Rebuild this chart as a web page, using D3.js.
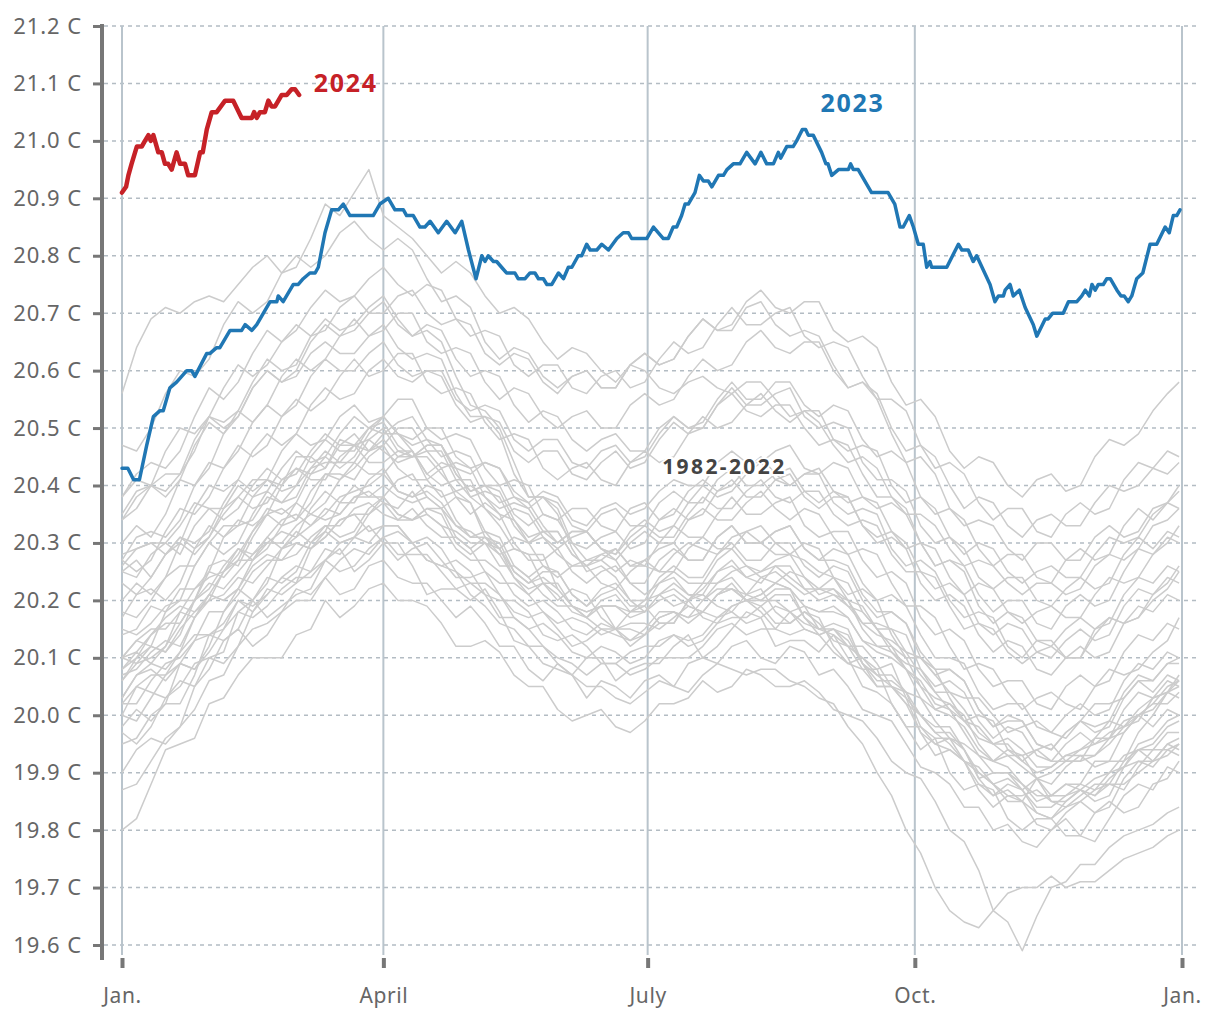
<!DOCTYPE html>
<html><head><meta charset="utf-8">
<script src="https://cdn.jsdelivr.net/npm/d3@7"></script>
<style>
html,body{margin:0;padding:0;background:#fff;}
text{font-family:"Noto Sans","Open Sans",sans-serif;}
</style></head>
<body><svg id="chart" width="1220" height="1020"></svg>
<script>
// ---------- DATA ----------
const yTicks = [19.6,19.7,19.8,19.9,20.0,20.1,20.2,20.3,20.4,20.5,20.6,20.7,20.8,20.9,21.0,21.1,21.2];
const monthDays = [0,90,181,273,365];
const monthLabels = ["Jan.","April","July","Oct.","Jan."];
const GREY_DAYS = [0,5,10,15,20,25,30,35,40,45,50,55,60,65,70,75,80,85,90,95,100,105,110,115,120,125,130,135,140,145,150,155,160,165,170,175,180,185,190,195,200,205,210,215,220,225,230,235,240,245,250,255,260,265,270,275,280,285,290,295,300,305,310,315,320,325,330,335,340,345,350,355,360,364];

const y1982=[20.00,20.05,20.04,20.03,20.05,20.09,20.10,20.11,20.18,20.20,20.17,20.19,20.21,20.22,20.27,20.29,20.25,20.27,20.30,20.30,20.26,20.21,20.22,20.22,20.20,20.22,20.18,20.13,20.12,20.12,20.09,20.07,20.10,20.10,20.06,20.08,20.09,20.09,20.12,20.14,20.10,20.12,20.15,20.18,20.17,20.12,20.13,20.13,20.11,20.14,20.10,20.05,20.04,20.02,19.98,19.94,19.96,19.96,19.92,19.90,19.88,19.85,19.85,19.89,19.86,19.86,19.88,19.92,19.92,19.92,19.97,20.00,20.04,20.03];
const y1983=[20.28,20.29,20.30,20.30,20.33,20.37,20.36,20.36,20.38,20.41,20.41,20.40,20.45,20.45,20.43,20.48,20.47,20.46,20.49,20.49,20.46,20.42,20.44,20.43,20.38,20.36,20.33,20.29,20.28,20.28,20.22,20.19,20.18,20.19,20.15,20.12,20.14,20.16,20.16,20.20,20.17,20.16,20.19,20.20,20.18,20.15,20.18,20.19,20.15,20.14,20.12,20.08,20.08,20.09,20.03,20.00,19.98,19.98,19.94,19.89,19.90,19.90,19.87,19.89,19.85,19.84,19.86,19.88,19.88,19.87,19.91,19.94,19.94,19.95];
const y1984=[19.97,19.95,19.98,20.03,20.06,20.05,20.08,20.13,20.15,20.12,20.14,20.18,20.20,20.20,20.24,20.21,20.22,20.26,20.27,20.24,20.23,20.23,20.20,20.17,20.19,20.16,20.12,20.12,20.08,20.06,20.09,20.07,20.03,20.06,20.05,20.03,20.06,20.07,20.05,20.09,20.10,20.09,20.12,20.13,20.10,20.09,20.12,20.11,20.07,20.08,20.05,20.01,20.00,19.99,19.95,19.91,19.90,19.88,19.84,19.84,19.80,19.81,19.78,19.77,19.80,19.82,19.79,19.78,19.82,19.86,19.88,19.87,19.91,19.90];
const y1985=[19.80,19.82,19.88,19.94,19.95,19.96,20.02,20.03,20.07,20.10,20.10,20.10,20.14,20.15,20.20,20.17,20.19,20.22,20.23,20.20,20.20,20.19,20.16,20.12,20.12,20.13,20.11,20.07,20.05,20.05,20.01,19.99,20.00,20.01,19.98,19.97,19.99,20.02,20.02,20.03,20.06,20.04,20.05,20.08,20.07,20.05,20.05,20.06,20.04,20.01,20.00,19.99,19.96,19.92,19.90,19.89,19.85,19.80,19.78,19.73,19.66,19.64,19.59,19.65,19.70,19.71,19.74,19.74,19.77,19.79,19.80,19.81,19.83,19.84];
const y1986=[20.03,20.07,20.08,20.06,20.09,20.13,20.14,20.15,20.20,20.18,20.21,20.24,20.23,20.25,20.29,20.28,20.31,20.33,20.30,20.27,20.29,20.30,20.27,20.24,20.24,20.25,20.21,20.18,20.17,20.18,20.15,20.12,20.13,20.15,20.14,20.13,20.15,20.18,20.18,20.17,20.20,20.22,20.22,20.21,20.24,20.25,20.23,20.21,20.22,20.22,20.19,20.16,20.16,20.15,20.11,20.10,20.07,20.04,20.03,20.03,20.00,19.97,19.98,19.99,19.97,19.96,19.99,20.02,20.02,20.03,20.06,20.06,20.09,20.10];
const y1987=[20.18,20.17,20.20,20.24,20.26,20.26,20.30,20.33,20.33,20.34,20.38,20.37,20.40,20.43,20.44,20.44,20.47,20.48,20.46,20.44,20.45,20.45,20.42,20.39,20.40,20.38,20.35,20.34,20.30,20.31,20.28,20.26,20.27,20.27,20.25,20.27,20.26,20.25,20.28,20.30,20.29,20.28,20.31,20.32,20.30,20.28,20.28,20.27,20.25,20.24,20.20,20.19,20.15,20.12,20.08,20.06,20.02,20.01,19.97,19.93,19.92,19.91,19.88,19.86,19.86,19.88,19.87,19.86,19.89,19.91,19.92,19.92,19.95,19.96];
const y1988=[20.10,20.13,20.12,20.11,20.15,20.18,20.20,20.21,20.24,20.23,20.26,20.29,20.30,20.29,20.31,20.34,20.35,20.32,20.33,20.33,20.30,20.27,20.26,20.25,20.21,20.19,20.16,20.15,20.12,20.09,20.08,20.07,20.05,20.05,20.03,20.02,20.04,20.06,20.05,20.04,20.07,20.09,20.08,20.07,20.08,20.08,20.06,20.05,20.03,20.02,19.98,19.95,19.90,19.86,19.80,19.76,19.70,19.66,19.64,19.63,19.66,19.69,19.70,19.70,19.72,19.70,19.71,19.71,19.73,19.75,19.76,19.77,19.79,19.80];
const y1989=[19.87,19.88,19.92,19.96,19.98,20.01,20.06,20.07,20.12,20.15,20.16,20.18,20.22,20.21,20.24,20.27,20.29,20.28,20.31,20.32,20.30,20.27,20.26,20.27,20.25,20.21,20.20,20.20,20.18,20.14,20.13,20.14,20.12,20.09,20.09,20.11,20.12,20.12,20.14,20.12,20.13,20.16,20.17,20.17,20.19,20.16,20.16,20.18,20.16,20.13,20.12,20.12,20.09,20.05,20.04,20.03,19.99,19.96,19.95,19.93,19.90,19.90,19.88,19.85,19.86,19.88,19.88,19.87,19.90,19.93,19.94,19.95,19.98,19.99];
const y1990=[20.10,20.11,20.14,20.17,20.19,20.18,20.21,20.25,20.27,20.27,20.30,20.32,20.31,20.33,20.36,20.35,20.38,20.39,20.37,20.36,20.39,20.35,20.33,20.32,20.30,20.30,20.28,20.24,20.22,20.23,20.21,20.18,20.17,20.19,20.19,20.18,20.20,20.21,20.19,20.20,20.23,20.23,20.25,20.26,20.24,20.23,20.25,20.24,20.21,20.22,20.20,20.16,20.14,20.13,20.11,20.07,20.04,20.04,20.01,19.97,19.95,19.96,19.94,19.91,19.91,19.93,19.94,19.95,19.97,19.98,20.01,20.03,20.04,20.06];
const y1991=[20.06,20.09,20.10,20.12,20.16,20.20,20.23,20.22,20.25,20.28,20.30,20.30,20.33,20.35,20.34,20.35,20.38,20.38,20.40,20.38,20.37,20.38,20.36,20.33,20.32,20.30,20.26,20.26,20.24,20.21,20.19,20.19,20.17,20.15,20.15,20.16,20.16,20.15,20.17,20.19,20.18,20.17,20.19,20.20,20.20,20.20,20.18,20.16,20.15,20.15,20.12,20.10,20.07,20.05,20.02,20.00,19.97,19.95,19.92,19.91,19.88,19.86,19.86,19.87,19.85,19.85,19.87,19.89,19.90,19.91,19.95,19.96,19.99,20.00];
const y1992=[20.00,19.99,20.03,20.07,20.09,20.08,20.11,20.15,20.18,20.17,20.19,20.22,20.24,20.24,20.27,20.25,20.26,20.29,20.31,20.28,20.28,20.28,20.25,20.22,20.23,20.21,20.17,20.17,20.15,20.12,20.10,20.09,20.07,20.09,20.09,20.07,20.08,20.10,20.10,20.10,20.12,20.15,20.16,20.14,20.15,20.15,20.14,20.15,20.14,20.11,20.09,20.08,20.05,20.05,20.02,19.97,19.95,19.94,19.92,19.88,19.86,19.87,19.85,19.83,19.82,19.84,19.85,19.87,19.88,19.88,19.90,19.92,19.93,19.95];
const y1993=[20.02,20.05,20.07,20.07,20.11,20.14,20.14,20.16,20.20,20.19,20.21,20.24,20.26,20.25,20.27,20.30,20.31,20.30,20.33,20.33,20.30,20.31,20.29,20.25,20.23,20.23,20.21,20.17,20.15,20.16,20.14,20.11,20.10,20.12,20.11,20.09,20.10,20.13,20.14,20.13,20.14,20.17,20.18,20.16,20.17,20.19,20.18,20.15,20.14,20.15,20.13,20.09,20.07,20.07,20.04,20.00,19.97,19.97,19.94,19.90,19.88,19.89,19.87,19.84,19.84,19.86,19.87,19.86,19.88,19.92,19.94,19.94,19.97,19.97];
const y1994=[20.07,20.08,20.11,20.13,20.12,20.17,20.21,20.20,20.22,20.26,20.28,20.27,20.28,20.31,20.33,20.33,20.36,20.37,20.35,20.34,20.36,20.33,20.31,20.31,20.29,20.25,20.23,20.23,20.21,20.18,20.16,20.17,20.16,20.14,20.15,20.15,20.14,20.17,20.18,20.17,20.18,20.21,20.22,20.20,20.21,20.23,20.22,20.19,20.18,20.18,20.17,20.13,20.11,20.10,20.08,20.03,20.01,20.00,19.98,19.94,19.92,19.93,19.91,19.89,19.90,19.92,19.92,19.93,19.95,19.98,20.00,20.01,20.04,20.05];
const y1995=[20.15,20.14,20.16,20.19,20.20,20.20,20.22,20.26,20.29,20.28,20.31,20.34,20.35,20.33,20.35,20.38,20.39,20.40,20.42,20.39,20.38,20.39,20.37,20.33,20.31,20.31,20.29,20.25,20.23,20.24,20.22,20.19,20.18,20.19,20.19,20.17,20.18,20.21,20.22,20.20,20.22,20.25,20.26,20.24,20.25,20.26,20.24,20.22,20.22,20.21,20.19,20.18,20.15,20.11,20.09,20.08,20.04,20.01,19.99,19.98,19.95,19.93,19.93,19.94,19.92,19.92,19.94,19.96,19.96,19.97,20.00,20.02,20.02,20.04];
const y1996=[20.02,20.02,20.06,20.09,20.10,20.13,20.18,20.18,20.21,20.25,20.27,20.27,20.30,20.29,20.31,20.34,20.35,20.35,20.37,20.34,20.34,20.35,20.33,20.29,20.27,20.27,20.25,20.21,20.19,20.20,20.18,20.15,20.14,20.16,20.15,20.13,20.14,20.17,20.18,20.16,20.18,20.21,20.22,20.20,20.21,20.23,20.22,20.19,20.18,20.19,20.17,20.13,20.12,20.11,20.08,20.05,20.03,20.02,19.99,19.96,19.95,19.95,19.92,19.90,19.91,19.93,19.93,19.93,19.96,19.99,20.00,20.02,20.05,20.06];
const y1997=[20.10,20.13,20.15,20.15,20.18,20.22,20.24,20.25,20.28,20.32,20.35,20.33,20.34,20.39,20.42,20.41,20.43,20.46,20.48,20.45,20.45,20.47,20.47,20.43,20.42,20.44,20.43,20.39,20.37,20.39,20.38,20.34,20.33,20.36,20.37,20.35,20.36,20.39,20.41,20.40,20.40,20.44,20.46,20.44,20.44,20.46,20.47,20.43,20.42,20.44,20.43,20.38,20.36,20.37,20.35,20.30,20.26,20.27,20.26,20.21,20.18,20.20,20.20,20.16,20.15,20.19,20.21,20.19,20.20,20.25,20.29,20.28,20.31,20.30];
const y1998=[20.34,20.38,20.40,20.39,20.42,20.48,20.52,20.51,20.53,20.58,20.62,20.60,20.61,20.66,20.69,20.67,20.68,20.71,20.73,20.69,20.66,20.67,20.65,20.59,20.54,20.53,20.50,20.44,20.38,20.38,20.35,20.29,20.25,20.26,20.24,20.20,20.18,20.20,20.21,20.19,20.18,20.21,20.23,20.20,20.19,20.21,20.21,20.17,20.14,20.15,20.14,20.09,20.05,20.05,20.03,19.97,19.93,19.94,19.92,19.87,19.84,19.86,19.85,19.81,19.80,19.83,19.85,19.83,19.84,19.89,19.92,19.91,19.94,19.93];
const y1999=[19.95,19.96,20.00,20.02,20.02,20.07,20.14,20.13,20.15,20.20,20.24,20.23,20.25,20.30,20.33,20.31,20.32,20.36,20.38,20.35,20.34,20.36,20.35,20.30,20.28,20.30,20.29,20.24,20.21,20.23,20.23,20.19,20.17,20.20,20.21,20.18,20.18,20.21,20.23,20.21,20.21,20.25,20.27,20.24,20.23,20.26,20.26,20.22,20.20,20.21,20.20,20.15,20.12,20.12,20.10,20.05,20.01,20.02,20.00,19.95,19.92,19.94,19.93,19.89,19.88,19.91,19.93,19.91,19.92,19.97,20.00,19.98,20.01,20.00];
const y2000=[20.03,20.07,20.09,20.08,20.11,20.17,20.21,20.20,20.22,20.27,20.31,20.29,20.31,20.36,20.39,20.37,20.37,20.41,20.43,20.39,20.38,20.40,20.39,20.34,20.31,20.32,20.31,20.26,20.24,20.26,20.25,20.21,20.19,20.21,20.22,20.19,20.19,20.23,20.25,20.23,20.23,20.27,20.29,20.26,20.25,20.27,20.28,20.24,20.22,20.24,20.23,20.18,20.15,20.15,20.14,20.08,20.05,20.06,20.04,19.99,19.96,19.98,19.97,19.93,19.92,19.95,19.97,19.95,19.96,20.01,20.04,20.03,20.06,20.05];
const y2001=[20.08,20.10,20.14,20.16,20.16,20.20,20.26,20.27,20.26,20.31,20.35,20.36,20.34,20.37,20.42,20.42,20.41,20.45,20.47,20.43,20.41,20.41,20.43,20.38,20.35,20.37,20.35,20.30,20.27,20.27,20.29,20.25,20.23,20.25,20.26,20.23,20.23,20.27,20.29,20.27,20.27,20.31,20.33,20.30,20.30,20.32,20.33,20.29,20.27,20.29,20.28,20.23,20.20,20.21,20.19,20.14,20.10,20.10,20.09,20.04,20.01,20.02,20.02,19.98,19.97,20.00,20.02,20.00,20.01,20.06,20.09,20.08,20.11,20.10];
const y2002=[20.14,20.15,20.19,20.18,20.20,20.26,20.30,20.28,20.30,20.35,20.39,20.37,20.38,20.43,20.46,20.44,20.44,20.48,20.50,20.46,20.45,20.47,20.47,20.42,20.39,20.40,20.40,20.35,20.33,20.35,20.34,20.30,20.29,20.31,20.32,20.29,20.30,20.34,20.36,20.34,20.35,20.39,20.41,20.38,20.38,20.41,20.42,20.38,20.36,20.38,20.38,20.33,20.31,20.32,20.30,20.25,20.22,20.23,20.21,20.16,20.14,20.16,20.15,20.11,20.10,20.13,20.15,20.13,20.14,20.19,20.22,20.21,20.24,20.23];
const y2003=[20.25,20.24,20.28,20.30,20.28,20.33,20.36,20.34,20.36,20.40,20.43,20.41,20.42,20.46,20.49,20.47,20.47,20.50,20.52,20.49,20.47,20.48,20.47,20.42,20.39,20.40,20.39,20.34,20.31,20.32,20.32,20.28,20.26,20.28,20.29,20.26,20.26,20.30,20.33,20.31,20.31,20.35,20.38,20.35,20.35,20.37,20.38,20.33,20.31,20.32,20.32,20.27,20.24,20.25,20.23,20.17,20.14,20.15,20.13,20.08,20.05,20.06,20.06,20.02,20.01,20.05,20.07,20.05,20.06,20.11,20.14,20.13,20.16,20.15];
const y2004=[20.17,20.21,20.22,20.20,20.23,20.29,20.33,20.31,20.33,20.38,20.41,20.39,20.40,20.45,20.48,20.46,20.46,20.50,20.51,20.47,20.45,20.46,20.46,20.41,20.38,20.39,20.38,20.33,20.30,20.32,20.32,20.28,20.26,20.27,20.29,20.26,20.27,20.29,20.30,20.27,20.27,20.31,20.33,20.30,20.30,20.32,20.33,20.29,20.27,20.27,20.26,20.21,20.18,20.18,20.16,20.11,20.08,20.08,20.06,20.01,19.98,19.99,19.99,19.95,19.94,19.97,19.99,19.98,19.99,20.04,20.07,20.06,20.09,20.09];
const y2005=[20.20,20.23,20.21,20.24,20.30,20.28,20.31,20.36,20.40,20.38,20.39,20.43,20.46,20.44,20.45,20.49,20.52,20.50,20.49,20.51,20.52,20.48,20.45,20.46,20.45,20.40,20.37,20.38,20.37,20.33,20.30,20.32,20.32,20.29,20.27,20.30,20.32,20.30,20.30,20.34,20.36,20.34,20.34,20.37,20.39,20.36,20.34,20.36,20.35,20.31,20.28,20.29,20.28,20.23,20.19,20.19,20.17,20.12,20.08,20.09,20.08,20.04,20.01,20.03,20.04,20.02,20.01,20.05,20.08,20.07,20.08,20.11,20.13,20.17];
const y2006=[20.10,20.09,20.12,20.18,20.22,20.22,20.25,20.31,20.34,20.33,20.35,20.40,20.43,20.42,20.43,20.47,20.49,20.46,20.47,20.50,20.50,20.46,20.43,20.44,20.43,20.38,20.36,20.37,20.36,20.32,20.30,20.32,20.32,20.29,20.28,20.31,20.33,20.31,20.31,20.35,20.38,20.36,20.36,20.39,20.41,20.38,20.37,20.39,20.39,20.35,20.33,20.34,20.33,20.28,20.25,20.25,20.24,20.19,20.15,20.16,20.15,20.11,20.09,20.11,20.12,20.10,20.10,20.14,20.17,20.16,20.17,20.20,20.22,20.25];
const y2007=[20.25,20.27,20.24,20.28,20.31,20.29,20.31,20.35,20.38,20.36,20.37,20.41,20.43,20.41,20.41,20.45,20.47,20.44,20.44,20.46,20.46,20.41,20.38,20.39,20.37,20.31,20.28,20.29,20.28,20.23,20.20,20.22,20.21,20.17,20.15,20.18,20.19,20.16,20.16,20.20,20.21,20.19,20.18,20.21,20.22,20.18,20.16,20.18,20.17,20.12,20.09,20.10,20.08,20.02,19.98,19.98,19.96,19.90,19.87,19.88,19.87,19.82,19.80,19.82,19.82,19.79,19.79,19.83,19.85,19.83,19.84,19.88,19.89,19.92];
const y2008=[19.90,19.94,19.96,19.95,19.98,20.05,20.10,20.09,20.12,20.18,20.22,20.21,20.23,20.29,20.32,20.30,20.31,20.35,20.38,20.35,20.34,20.36,20.36,20.31,20.29,20.31,20.30,20.25,20.23,20.25,20.25,20.21,20.19,20.22,20.23,20.20,20.20,20.24,20.26,20.24,20.24,20.28,20.30,20.27,20.27,20.30,20.30,20.26,20.24,20.26,20.25,20.20,20.17,20.18,20.16,20.10,20.07,20.08,20.06,20.01,19.98,20.00,19.99,19.95,19.94,19.97,19.99,19.97,19.98,20.03,20.06,20.04,20.07,20.06];
const y2009=[20.08,20.11,20.09,20.12,20.18,20.17,20.20,20.25,20.29,20.27,20.29,20.33,20.37,20.35,20.37,20.41,20.44,20.42,20.42,20.45,20.46,20.42,20.40,20.41,20.41,20.36,20.34,20.36,20.35,20.31,20.29,20.31,20.32,20.29,20.28,20.32,20.34,20.32,20.33,20.37,20.40,20.38,20.39,20.42,20.44,20.41,20.40,20.42,20.43,20.39,20.37,20.38,20.37,20.32,20.29,20.30,20.29,20.24,20.21,20.23,20.22,20.18,20.16,20.18,20.19,20.17,20.17,20.21,20.24,20.23,20.24,20.28,20.30,20.33];
const y2010=[20.34,20.36,20.40,20.42,20.42,20.46,20.52,20.50,20.52,20.57,20.60,20.58,20.59,20.63,20.65,20.63,20.63,20.66,20.68,20.64,20.62,20.63,20.62,20.56,20.52,20.52,20.49,20.42,20.38,20.38,20.36,20.30,20.27,20.28,20.27,20.23,20.21,20.23,20.24,20.21,20.20,20.23,20.24,20.21,20.20,20.22,20.22,20.17,20.15,20.16,20.15,20.09,20.06,20.06,20.04,19.98,19.95,19.96,19.94,19.89,19.86,19.88,19.87,19.83,19.82,19.85,19.87,19.85,19.86,19.91,19.94,19.92,19.95,19.94];
const y2011=[19.98,20.01,19.99,20.02,20.09,20.08,20.12,20.18,20.22,20.20,20.23,20.29,20.32,20.30,20.32,20.37,20.40,20.38,20.38,20.41,20.42,20.38,20.36,20.38,20.37,20.32,20.29,20.31,20.30,20.26,20.24,20.26,20.26,20.23,20.22,20.25,20.27,20.25,20.25,20.29,20.31,20.29,20.29,20.32,20.33,20.30,20.28,20.30,20.29,20.24,20.21,20.22,20.20,20.14,20.10,20.10,20.08,20.03,19.99,20.00,19.99,19.94,19.92,19.94,19.95,19.92,19.92,19.96,19.99,19.98,19.99,20.03,20.04,20.07];
const y2012=[20.06,20.10,20.12,20.11,20.14,20.20,20.25,20.24,20.27,20.32,20.36,20.35,20.37,20.42,20.45,20.43,20.45,20.49,20.52,20.49,20.48,20.50,20.50,20.45,20.43,20.44,20.43,20.38,20.36,20.38,20.37,20.33,20.32,20.35,20.36,20.33,20.33,20.37,20.39,20.37,20.37,20.41,20.43,20.40,20.40,20.42,20.43,20.39,20.37,20.39,20.38,20.33,20.30,20.31,20.29,20.23,20.20,20.21,20.19,20.14,20.11,20.13,20.12,20.08,20.07,20.10,20.12,20.10,20.11,20.16,20.19,20.18,20.21,20.20];
const y2013=[20.23,20.21,20.24,20.28,20.31,20.30,20.32,20.37,20.41,20.39,20.41,20.46,20.49,20.47,20.48,20.52,20.54,20.51,20.52,20.55,20.55,20.50,20.48,20.49,20.48,20.43,20.40,20.41,20.40,20.35,20.34,20.36,20.36,20.33,20.32,20.36,20.37,20.34,20.35,20.39,20.41,20.39,20.40,20.43,20.45,20.42,20.40,20.42,20.42,20.37,20.35,20.36,20.35,20.29,20.26,20.27,20.25,20.20,20.17,20.18,20.17,20.12,20.10,20.13,20.13,20.10,20.10,20.15,20.17,20.16,20.17,20.21,20.23,20.26];
const y2014=[20.26,20.29,20.30,20.28,20.30,20.36,20.40,20.39,20.41,20.46,20.49,20.47,20.49,20.54,20.57,20.55,20.56,20.60,20.62,20.59,20.58,20.60,20.60,20.55,20.53,20.54,20.53,20.48,20.46,20.48,20.48,20.44,20.43,20.46,20.47,20.44,20.45,20.49,20.52,20.50,20.51,20.55,20.58,20.55,20.55,20.58,20.58,20.54,20.52,20.54,20.53,20.48,20.45,20.46,20.44,20.38,20.35,20.36,20.34,20.29,20.26,20.28,20.28,20.24,20.23,20.27,20.29,20.27,20.28,20.33,20.36,20.34,20.37,20.36];
const y2015=[20.38,20.41,20.40,20.46,20.50,20.49,20.52,20.57,20.61,20.59,20.61,20.65,20.68,20.66,20.67,20.71,20.73,20.70,20.70,20.73,20.74,20.70,20.68,20.69,20.68,20.63,20.61,20.63,20.62,20.58,20.56,20.59,20.60,20.57,20.57,20.61,20.63,20.61,20.62,20.66,20.69,20.67,20.68,20.72,20.74,20.71,20.70,20.72,20.72,20.67,20.65,20.66,20.64,20.58,20.54,20.55,20.52,20.46,20.43,20.45,20.44,20.40,20.38,20.41,20.42,20.39,20.40,20.45,20.48,20.47,20.49,20.53,20.56,20.58];
const y2016=[20.56,20.64,20.69,20.71,20.70,20.72,20.73,20.72,20.75,20.78,20.80,20.77,20.78,20.83,20.89,20.87,20.91,20.95,20.87,20.85,20.83,20.80,20.77,20.79,20.77,20.73,20.70,20.71,20.69,20.65,20.62,20.64,20.63,20.60,20.58,20.61,20.60,20.57,20.56,20.58,20.59,20.57,20.56,20.58,20.58,20.55,20.52,20.53,20.51,20.47,20.44,20.45,20.43,20.38,20.35,20.35,20.33,20.29,20.26,20.27,20.26,20.23,20.21,20.23,20.23,20.21,20.22,20.26,20.28,20.27,20.29,20.33,20.34,20.36];
const y2017=[20.35,20.39,20.40,20.38,20.41,20.47,20.51,20.49,20.52,20.57,20.60,20.58,20.60,20.65,20.68,20.66,20.67,20.70,20.72,20.68,20.66,20.68,20.67,20.62,20.59,20.60,20.59,20.54,20.51,20.53,20.52,20.48,20.46,20.48,20.49,20.46,20.46,20.50,20.52,20.50,20.50,20.54,20.56,20.53,20.52,20.54,20.54,20.50,20.47,20.48,20.47,20.42,20.38,20.38,20.36,20.30,20.26,20.27,20.25,20.19,20.16,20.18,20.17,20.13,20.12,20.15,20.17,20.15,20.16,20.21,20.24,20.23,20.26,20.25];
const y2018=[20.27,20.25,20.27,20.32,20.36,20.35,20.38,20.43,20.47,20.45,20.47,20.52,20.55,20.53,20.55,20.59,20.62,20.59,20.60,20.63,20.63,20.58,20.56,20.57,20.56,20.51,20.48,20.49,20.48,20.43,20.41,20.43,20.44,20.41,20.40,20.44,20.46,20.44,20.45,20.49,20.52,20.50,20.51,20.54,20.56,20.53,20.51,20.53,20.53,20.48,20.46,20.47,20.46,20.40,20.37,20.38,20.36,20.31,20.28,20.30,20.29,20.25,20.23,20.25,20.26,20.24,20.24,20.28,20.31,20.30,20.31,20.35,20.37,20.40];
const y2019=[20.38,20.42,20.44,20.43,20.46,20.52,20.57,20.55,20.58,20.63,20.67,20.65,20.67,20.71,20.74,20.72,20.73,20.76,20.78,20.75,20.73,20.75,20.74,20.69,20.66,20.67,20.66,20.61,20.59,20.61,20.61,20.57,20.56,20.59,20.60,20.57,20.58,20.62,20.65,20.63,20.64,20.68,20.71,20.68,20.68,20.70,20.71,20.66,20.64,20.65,20.64,20.59,20.55,20.55,20.53,20.47,20.43,20.44,20.42,20.37,20.34,20.36,20.36,20.32,20.31,20.35,20.37,20.35,20.36,20.41,20.44,20.43,20.46,20.45];
const y2020=[20.47,20.46,20.50,20.56,20.60,20.59,20.62,20.68,20.72,20.70,20.72,20.77,20.80,20.78,20.80,20.84,20.86,20.83,20.81,20.83,20.81,20.76,20.72,20.73,20.71,20.65,20.62,20.64,20.63,20.59,20.57,20.59,20.60,20.57,20.57,20.61,20.63,20.61,20.62,20.66,20.69,20.67,20.67,20.71,20.72,20.68,20.66,20.67,20.66,20.61,20.57,20.58,20.55,20.49,20.44,20.45,20.42,20.36,20.33,20.34,20.33,20.29,20.27,20.30,20.30,20.27,20.27,20.31,20.33,20.31,20.32,20.36,20.37,20.39];
const y2021=[20.27,20.31,20.32,20.31,20.34,20.40,20.44,20.43,20.46,20.51,20.54,20.52,20.54,20.59,20.62,20.60,20.60,20.63,20.65,20.61,20.59,20.60,20.59,20.54,20.51,20.52,20.51,20.46,20.44,20.46,20.46,20.42,20.41,20.44,20.46,20.43,20.44,20.48,20.51,20.49,20.50,20.54,20.57,20.54,20.54,20.56,20.57,20.52,20.50,20.51,20.50,20.44,20.41,20.41,20.39,20.33,20.30,20.31,20.29,20.24,20.22,20.24,20.24,20.20,20.19,20.22,20.24,20.22,20.23,20.28,20.31,20.29,20.32,20.31];
const y2022=[20.30,20.33,20.31,20.35,20.41,20.40,20.43,20.49,20.53,20.51,20.54,20.59,20.62,20.60,20.62,20.66,20.69,20.66,20.67,20.70,20.70,20.65,20.63,20.64,20.63,20.58,20.55,20.57,20.56,20.52,20.50,20.52,20.53,20.50,20.50,20.54,20.56,20.54,20.55,20.59,20.62,20.60,20.61,20.65,20.67,20.64,20.63,20.65,20.65,20.60,20.57,20.58,20.56,20.50,20.46,20.47,20.45,20.40,20.36,20.38,20.37,20.33,20.31,20.34,20.35,20.33,20.33,20.37,20.40,20.39,20.40,20.43,20.42,20.44];

const greySeries = [y1982,y1983,y1984,y1985,y1986,y1987,y1988,y1989,y1990,y1991,y1992,y1993,y1994,y1995,y1996,y1997,y1998,y1999,y2000,y2001,y2002,y2003,y2004,y2005,y2006,y2007,y2008,y2009,y2010,y2011,y2012,y2013,y2014,y2015,y2016,y2017,y2018,y2019,y2020,y2021,y2022];

// [day of year, temperature]
const series2023 = [[0,20.43],[2,20.43],[4,20.41],[6,20.41],[8.5,20.47],[10.8,20.52],[13,20.53],[14.2,20.53],[16.5,20.57],[18.8,20.58],[22.3,20.60],[24,20.60],[25.1,20.59],[29.2,20.63],[30.3,20.63],[32.6,20.64],[33.7,20.64],[37.2,20.67],[41.2,20.67],[42.4,20.68],[44.7,20.67],[46.4,20.68],[48.7,20.70],[51,20.72],[53.3,20.72],[53.8,20.73],[55.5,20.72],[59,20.75],[60.7,20.75],[62.4,20.76],[64.7,20.77],[66.5,20.77],[67.6,20.78],[69.9,20.84],[72.2,20.88],[74.5,20.88],[76.2,20.89],[78.5,20.87],[86.5,20.87],[88.8,20.89],[91.7,20.90],[94,20.88],[96.9,20.88],[98,20.87],[100.3,20.87],[102.6,20.85],[104.3,20.85],[106.1,20.86],[108.9,20.84],[111.8,20.86],[114.7,20.84],[117,20.86],[119.3,20.81],[121.9,20.76],[123.9,20.80],[125,20.79],[126.1,20.80],[127.9,20.79],[129,20.79],[130.7,20.78],[132.4,20.77],[135.3,20.77],[136.4,20.76],[138.8,20.76],[140.5,20.77],[142.2,20.77],[143.4,20.76],[145.1,20.76],[146.3,20.75],[148,20.75],[150.3,20.77],[152,20.76],[153.7,20.78],[154.9,20.78],[157.1,20.80],[158.3,20.80],[160,20.82],[161.2,20.81],[163.5,20.81],[165.2,20.82],[167.5,20.81],[170.4,20.83],[172.6,20.84],[174.4,20.84],[175.5,20.83],[180.7,20.83],[183,20.85],[184.7,20.84],[186.4,20.83],[188.1,20.83],[189.8,20.85],[191,20.85],[192.7,20.87],[193.9,20.89],[195,20.89],[197.3,20.91],[198.8,20.94],[200.2,20.93],[201.9,20.93],[203.1,20.92],[205.4,20.94],[207.1,20.94],[208.3,20.95],[210.5,20.96],[212.8,20.96],[215.1,20.98],[218,20.96],[220,20.98],[222,20.96],[224.3,20.96],[226,20.98],[226.8,20.97],[228.9,20.99],[231.1,20.99],[232.3,21.00],[234.3,21.02],[235.4,21.02],[236.3,21.01],[238,21.01],[240.9,20.98],[242.4,20.96],[243.1,20.96],[244.4,20.94],[246.7,20.95],[250.1,20.95],[250.9,20.96],[251.8,20.95],[253.5,20.95],[258.1,20.91],[263.8,20.91],[266.1,20.89],[267.9,20.85],[269,20.85],[271.1,20.87],[272.5,20.85],[274.2,20.82],[275.9,20.82],[277.1,20.78],[278.2,20.79],[278.8,20.78],[284,20.78],[288,20.82],[289.2,20.81],[291.4,20.81],[293.1,20.79],[294.3,20.80],[298.9,20.75],[300.6,20.72],[301.8,20.73],[303.5,20.73],[304.1,20.74],[305.8,20.75],[306.9,20.73],[309,20.74],[311,20.71],[313.8,20.68],[315,20.66],[317.9,20.69],[318.9,20.69],[320.5,20.70],[324.1,20.70],[325.9,20.72],[328.8,20.72],[330.5,20.73],[331.7,20.74],[333.1,20.73],[334,20.75],[335.1,20.74],[336.2,20.75],[337.9,20.75],[339.1,20.76],[340.3,20.76],[342.6,20.74],[344,20.73],[345.1,20.73],[346.5,20.72],[347.7,20.73],[349.4,20.76],[351.5,20.77],[354,20.82],[356.3,20.82],[359.2,20.85],[360.6,20.84],[362,20.87],[363.2,20.87],[364.3,20.88]];

const series2024 = [[0,20.91],[1.4,20.92],[2.2,20.94],[3.3,20.96],[5.1,20.99],[6.8,20.99],[7.9,21.00],[9.1,21.01],[9.9,21.00],[10.8,21.01],[12.5,20.98],[13.7,20.98],[14.8,20.96],[15.9,20.96],[17.1,20.95],[18.8,20.98],[20,20.96],[21.7,20.96],[22.8,20.94],[25.1,20.94],[26.9,20.98],[27.8,20.98],[29.2,21.02],[30.9,21.05],[32.6,21.05],[35.5,21.07],[38.3,21.07],[41.2,21.04],[44.7,21.04],[45.5,21.05],[46.4,21.04],[47.5,21.05],[49.2,21.05],[50.4,21.07],[51.5,21.06],[52.7,21.06],[55,21.08],[56.7,21.08],[58.4,21.09],[59.6,21.09],[61,21.08]];

const labels = [
  {text:"2024", day:66, value:21.097, color:"#c62127", size:25, spacing:"1.7px", halo:0},
  {text:"2023", day:240.5, value:21.063, color:"#2077b4", size:25, spacing:"1.7px", halo:0},
  {text:"1982-2022", day:186, value:20.43, color:"#444444", size:21, spacing:"2.4px", halo:4}
];

// ---------- CHART ----------
const svg = d3.select("#chart");
const x = d3.scaleLinear().domain([0,365]).range([122,1182]);
const y = d3.scaleLinear().domain([19.6,21.2]).range([945,26]);

// horizontal dashed gridlines
svg.append("g").selectAll("line").data(yTicks).join("line")
  .attr("x1",104).attr("x2",1196)
  .attr("y1",d=>y(d)).attr("y2",d=>y(d))
  .attr("stroke","#b3bcc3").attr("stroke-width",1.5).attr("stroke-dasharray","4,4");

// vertical month gridlines
svg.append("g").selectAll("line").data(monthDays).join("line")
  .attr("x1",d=>x(d)).attr("x2",d=>x(d))
  .attr("y1",y(21.2)).attr("y2",955)
  .attr("stroke","#b9c4cc").attr("stroke-width",2);

// left axis
const yAxis = d3.axisLeft(y).tickValues(yTicks).tickSize(9).tickSizeOuter(0).tickPadding(11)
  .tickFormat(d=>d.toFixed(1)+" C");
const gy = svg.append("g").attr("transform","translate(102,0)").call(yAxis);
gy.select(".domain").remove();
gy.selectAll(".tick line").attr("stroke","#777").attr("stroke-width",3);
gy.selectAll(".tick text").attr("fill","#666").attr("font-size",22).attr("letter-spacing","0.9px")
  .style("font-family",'"Noto Sans","Open Sans",sans-serif');
gy.append("line").attr("x1",0).attr("x2",0).attr("y1",y(21.2)-2).attr("y2",960)
  .attr("stroke","#777").attr("stroke-width",4);

// bottom axis (ticks only)
const xAxis = d3.axisBottom(x).tickValues(monthDays).tickSize(0).tickPadding(30)
  .tickFormat((d,i)=>monthLabels[i]);
const gx = svg.append("g").attr("transform","translate(0,958)").call(xAxis);
gx.select(".domain").remove();
gx.selectAll(".tick").append("line").attr("y1",0).attr("y2",10).attr("stroke","#777").attr("stroke-width",4);
gx.selectAll(".tick text").attr("fill","#666").attr("font-size",21).attr("letter-spacing","0.6px")
  .style("font-family",'"Noto Sans","Open Sans",sans-serif');

// lines
const line = d3.line().x(d=>x(d[0])).y(d=>y(d[1]));

svg.append("g").selectAll("path").data(greySeries).join("path")
  .attr("d",vals=>line(vals.map((v,i)=>[GREY_DAYS[i],v]).filter(p=>p[0]!==undefined)))
  .attr("fill","none").attr("stroke","#cccccc").attr("stroke-width",1.5).attr("stroke-linejoin","round");

svg.append("path").datum(series2023).attr("d",line)
  .attr("fill","none").attr("stroke","#2077b4").attr("stroke-width",3.5)
  .attr("stroke-linejoin","round").attr("stroke-linecap","round");

svg.append("path").datum(series2024).attr("d",line)
  .attr("fill","none").attr("stroke","#c62127").attr("stroke-width",4.5)
  .attr("stroke-linejoin","round").attr("stroke-linecap","round");

// labels
svg.append("g").selectAll("text").data(labels).join("text")
  .attr("x",d=>x(d.day)).attr("y",d=>y(d.value))
  .attr("dominant-baseline","middle")
  .attr("fill",d=>d.color)
  .attr("font-weight",700)
  .attr("font-size",d=>d.size)
  .attr("letter-spacing",d=>d.spacing)
  .attr("stroke","#fff").attr("stroke-width",d=>d.halo)
  .attr("paint-order","stroke")
  .text(d=>d.text);
</script>
</body></html>
